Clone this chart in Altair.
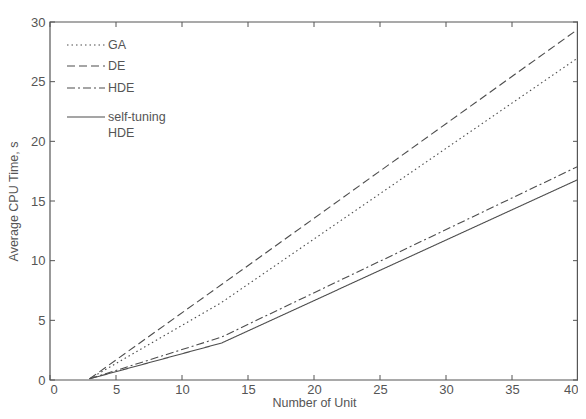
import altair as alt
import pandas as pd

units = [3, 13, 40]
ga = [0.1, 6.5, 27.0]
de = [0.1, 8.0, 29.4]
hde = [0.1, 3.6, 17.9]
st_hde = [0.1, 3.1, 16.8]
series_names = ["GA", "DE", "HDE", "self-tuning HDE"]
x_ticks = [0, 5, 10, 15, 20, 25, 30, 35, 40]
y_ticks = [0, 5, 10, 15, 20, 25, 30]

rows = []
for name, vals in zip(series_names, [ga, de, hde, st_hde]):
    for u, v in zip(units, vals):
        rows.append({"series": name, "unit": u, "time": v})
df = pd.DataFrame(rows)

W, H = 528, 358
LINE = "#4d4d4d"
TXT = "#555555"
FONT = "Liberation Sans"
dashes = [[1.5, 3], [8, 4], [8, 3, 2, 3], [1, 0]]

xs = alt.Scale(domain=[0, 40], nice=False)
ys = alt.Scale(domain=[0, 30], nice=False)
xax = alt.Axis(values=x_ticks, ticks=False, domain=False, grid=False,
               labelFontSize=13, labelColor=TXT, labelFont=FONT, labelPadding=3,
               titleFontSize=12.5, titleColor=TXT, titleFont=FONT,
               titleFontWeight="normal", titlePadding=0)
yax = alt.Axis(values=y_ticks, ticks=False, domain=False, grid=False,
               labelFontSize=13, labelColor=TXT, labelFont=FONT, labelPadding=5,
               titleFontSize=12.5, titleColor=TXT, titleFont=FONT,
               titleFontWeight="normal", titlePadding=10)
XT = "Number of Unit"
YT = "Average CPU Time, s"

lines = alt.Chart(df).mark_line(strokeWidth=1.1, color=LINE).encode(
    x=alt.X("unit:Q", scale=xs, title=XT, axis=xax),
    y=alt.Y("time:Q", scale=ys, title=YT, axis=yax),
    strokeDash=alt.StrokeDash("series:N", scale=alt.Scale(domain=series_names, range=dashes), legend=None),
    detail="series:N",
)

xt = pd.DataFrame({"v": x_ticks})
yt = pd.DataFrame({"v": y_ticks})
tick_style = dict(color="#555555", strokeWidth=1)
xb = alt.Chart(xt).mark_rule(**tick_style).encode(x=alt.X("v:Q", scale=xs, title=XT, axis=xax), y=alt.value(H), y2=alt.value(H - 5))
xtop = alt.Chart(xt).mark_rule(**tick_style).encode(x=alt.X("v:Q", scale=xs, title=XT, axis=xax), y=alt.value(0), y2=alt.value(5))
yl = alt.Chart(yt).mark_rule(**tick_style).encode(y=alt.Y("v:Q", scale=ys, title=YT, axis=yax), x=alt.value(0), x2=alt.value(5))
yr = alt.Chart(yt).mark_rule(**tick_style).encode(y=alt.Y("v:Q", scale=ys, title=YT, axis=yax), x=alt.value(W), x2=alt.value(W - 5))

frame = alt.Chart(pd.DataFrame({"a": [0]})).mark_rect(
    fill=None, stroke="#555555", strokeWidth=1.2).encode(
    x=alt.value(0), x2=alt.value(W - 0.6), y=alt.value(0), y2=alt.value(H))

legend_layers = []
leg_y = [23, 44, 66, 95]
for name, dash, yy in zip(series_names, dashes, leg_y):
    legend_layers.append(
        alt.Chart(pd.DataFrame({"a": [0]})).mark_rule(strokeWidth=1.1, color=LINE, strokeDash=dash).encode(
            x=alt.value(17), x2=alt.value(55), y=alt.value(yy)))
    label = ["self-tuning", "HDE"] if name == "self-tuning HDE" else name
    legend_layers.append(
        alt.Chart(pd.DataFrame({"a": [0]})).mark_text(
            text=label, align="left", baseline="middle", fontSize=12.5, font=FONT,
            color=TXT, lineHeight=16).encode(x=alt.value(58), y=alt.value(yy)))

chart = alt.layer(lines, xb, xtop, yl, yr, frame, *legend_layers).properties(
    width=W, height=H,
    background="white",
    autosize=alt.AutoSizeParams(type="none"),
    padding={"left": 42, "top": 14, "right": 0, "bottom": 29},
).configure_view(stroke=None)

chart.save("out.html", embed_options={"renderer": "svg", "actions": False})
